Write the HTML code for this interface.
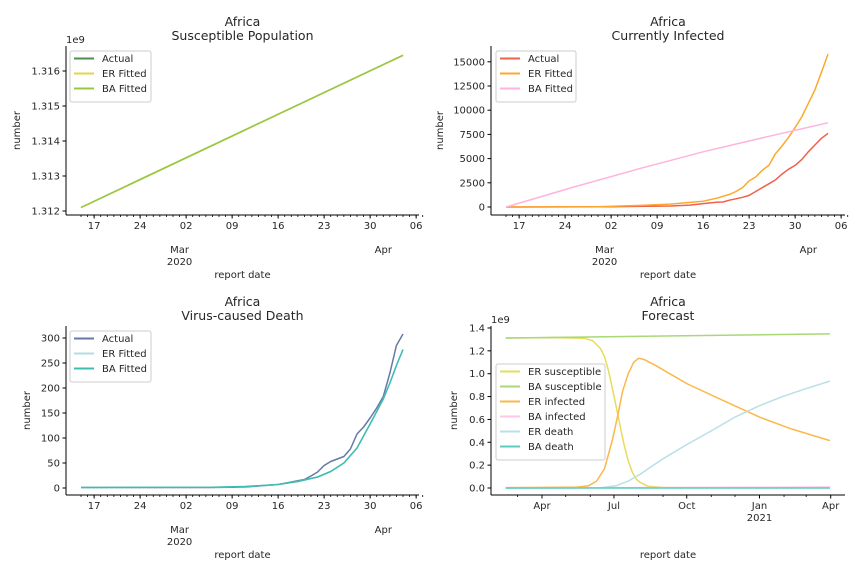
<!DOCTYPE html>
<html><head><meta charset="utf-8"><style>
html,body{margin:0;padding:0;background:#fff;}
svg{display:block;font-family:"DejaVu Sans","Liberation Sans",sans-serif;}
</style></head><body>
<svg id="fig" width="864" height="576" xmlns="http://www.w3.org/2000/svg"></svg>
<script>
// ---- data (day index from 2020-02-15) ----
const suscDays=[0,25,49];
const suscActual=[1.31210,1.31432,1.31645];
const suscER=[1.31210,1.31432,1.31645];
const suscBA=[1.31210,1.31432,1.31645];

const infActualDays=[0,16,25,28,30,32,33,34,35,36,37,38,39,40,41,42,43,44,45,46,47,48,49];
const infActual=[0,30,100,200,350,500,520,700,850,1000,1200,1600,2000,2400,2800,3400,3900,4300,4900,5700,6400,7100,7600];
const infERDays=[0,14,20,25,30,32,34,35,36,37,38,39,40,41,42,43,44,45,46,47,48,49];
const infER=[0,20,150,300,600,900,1300,1600,2000,2700,3100,3800,4300,5500,6300,7200,8200,9300,10700,12100,13900,15800];
const infBADays=[0,10,20,30,40,49];
const infBA=[0,2000,3900,5700,7300,8700];

const deathActualDays=[0,20,25,28,30,32,34,35,36,37,38,39,40,41,42,43,44,45,46,47,48,49];
const deathActual=[1,1,2,5,7,12,17,24,32,45,53,58,63,78,108,122,140,160,183,230,285,308];
const deathFitDays=[0,20,25,30,33,36,38,40,42,44,46,47,48,49];
const deathER=[1,1.5,3,7,13,22,33,50,80,128,178,210,245,277];
const deathBA=[1,1.5,3,7,13,22,33,50,80,128,178,210,245,277];

const fcERSuscDays=[0,60,100,110,120,125,130,135,138,142,146,150,155,160,165,170,180,200,410];
const fcERSusc=[1.312,1.316,1.31,1.29,1.22,1.15,1.03,0.87,0.77,0.64,0.5,0.37,0.24,0.14,0.08,0.05,0.015,0.004,0.002];
const fcBASuscDays=[0,410];
const fcBASusc=[1.312,1.348];
const fcERInfDays=[0,90,105,115,125,135,142,148,155,162,168,175,190,230,280,321,360,410];
const fcERInf=[0.003,0.008,0.02,0.06,0.17,0.42,0.64,0.85,1.0,1.1,1.135,1.125,1.07,0.91,0.75,0.62,0.52,0.415];
const fcBAInfDays=[0,410];
const fcBAInf=[0.0,0.009];
const fcERDeathDays=[0,120,140,155,170,185,200,229,260,290,321,350,380,410];
const fcERDeath=[0,0.003,0.02,0.06,0.12,0.19,0.26,0.38,0.5,0.62,0.72,0.8,0.87,0.935];
const fcBADeathDays=[0,410];
const fcBADeath=[0,0.0003];

const shortTickDays=[2,9,16,23,30,37,44,51];
const shortTickLabels=["17","24","02","09","16","23","30","06"];
const fcTickDays=[46,137,229,321,411];
const fcTickLabels=["Apr","Jul","Oct","Jan","Apr"];
const fcMinorDays=[15,76,107,168,199,260,290,352,380];

const NS="http://www.w3.org/2000/svg";
const svg=document.getElementById('fig');
function el(tag,attrs,parent){const e=document.createElementNS(NS,tag);for(const k in attrs)e.setAttribute(k,attrs[k]);(parent||svg).appendChild(e);return e;}
function txt(x,y,s,size,anchor,parent,extra){const t=el('text',Object.assign({x:x,y:y,'font-size':size,'text-anchor':anchor||'middle',fill:'#262626'},extra||{}),parent);t.textContent=s;return t;}

function panel(cfg){
  const g=el('g',{});
  
  
  const xs=d=>cfg.x0+d*cfg.pxPerDay;
  const ys=v=>cfg.yZero-(v-cfg.yBase)*cfg.pxPerUnit;
  // titles
  const t1=txt((cfg.L+cfg.R)/2,cfg.T-20,'Africa',12.5,'middle',g);
  
  const t2=txt((cfg.L+cfg.R)/2,cfg.T-6,cfg.title,12.5,'middle',g);
  
  // spines
  el('line',{x1:cfg.L,y1:cfg.T,x2:cfg.L,y2:cfg.B,stroke:'#000','stroke-width':1},g);
  el('line',{x1:cfg.L,y1:cfg.B,x2:cfg.R,y2:cfg.B,stroke:'#000','stroke-width':1},g);
  // y ticks
  cfg.yTicks.forEach((v,i)=>{const y=ys(v);
    el('line',{x1:cfg.L-3.5,y1:y,x2:cfg.L,y2:y,stroke:'#000'},g);
    const t=txt(cfg.L-6,y+3.5,cfg.yLabels[i],10,'end',g);
    });
  if(cfg.offset){const t=txt(cfg.L,cfg.T-3,cfg.offset,10,'start',g);}
  const yl=txt(0,0,'number',10,'middle',g,{transform:`translate(${cfg.L-cfg.ylOff},${(cfg.T+cfg.B)/2}) rotate(-90)`});
  
  // x ticks
  cfg.minor.forEach(d=>{const x=xs(d);el('line',{x1:x,y1:cfg.B,x2:x,y2:cfg.B+2,stroke:'#000','stroke-width':0.8},g);});
  cfg.xTicks.forEach((d,i)=>{const x=xs(d);
    el('line',{x1:x,y1:cfg.B,x2:x,y2:cfg.B+3.5,stroke:'#000'},g);
    const t=txt(x,cfg.B+14,cfg.xLabels[i],10,'middle',g);
    });
  cfg.extraLabels.forEach(o=>{const t=txt(xs(o.d),cfg.B+o.dy,o.s,10,'middle',g);});
  const xl=txt((cfg.L+cfg.R)/2,cfg.B+63,'report date',10,'middle',g);
  
  // series
  cfg.series.forEach(s=>{
    const pts=s.days.map((d,i)=>xs(d).toFixed(1)+','+ys(s.vals[i]).toFixed(1)).join(' ');
    const p=el('polyline',{points:pts,fill:'none',stroke:s.color,'stroke-width':s.w||1.5,'stroke-linejoin':'round'},g);
    
    
  });
  // legend
  const lg=el('g',{},g);
  
  
  const lh=cfg.series.length*15+6;
  el('rect',{x:cfg.legX,y:cfg.legY,width:cfg.legW,height:lh,rx:2,fill:'#fff','fill-opacity':0.8,stroke:'#ccc'},lg);
  cfg.series.forEach((s,i)=>{const y=cfg.legY+11+i*15;
    el('line',{x1:cfg.legX+4,y1:y-3.5,x2:cfg.legX+24,y2:y-3.5,stroke:s.color,'stroke-width':2},lg);
    const t=txt(cfg.legX+32,y,s.label,10,'start',lg);
    });
}
const dayMinor=[];for(let d=0;d<=52;d++)dayMinor.push(d);
const DP=46/7;
const shortExtra=[{d:15,dy:38,s:'Mar'},{d:15,dy:50,s:'2020'},{d:46,dy:38,s:'Apr'}];

panel({name:'susceptible-population-chart',title:'Susceptible Population',L:66,R:419,T:46,B:215,x0:81,pxPerDay:DP,
  yZero:211,yBase:1.312,pxPerUnit:35000,yTicks:[1.312,1.313,1.314,1.315,1.316],yLabels:['1.312','1.313','1.314','1.315','1.316'],
  offset:'1e9',ylOff:46,xTicks:shortTickDays,xLabels:shortTickLabels,minor:dayMinor,extraLabels:shortExtra,
  legX:70,legY:51,legW:81,
  series:[{id:'actual-line',label:'Actual',days:suscDays,vals:suscActual,color:'#4e8f4e'},
          {id:'er-fitted-line',label:'ER Fitted',days:suscDays,vals:suscER,color:'#e3d64a'},
          {id:'ba-fitted-line',label:'BA Fitted',days:suscDays,vals:suscBA,color:'#98c840'}]});

panel({name:'currently-infected-chart',title:'Currently Infected',L:491,R:845,T:46,B:215,x0:506,pxPerDay:DP,
  yZero:207,yBase:0,pxPerUnit:24.2/2500,yTicks:[0,2500,5000,7500,10000,12500,15000],yLabels:['0','2500','5000','7500','10000','12500','15000'],
  offset:null,ylOff:48,xTicks:shortTickDays,xLabels:shortTickLabels,minor:dayMinor,extraLabels:shortExtra,
  legX:496,legY:51,legW:80,
  series:[{id:'actual-line',label:'Actual',days:infActualDays,vals:infActual,color:'#f0604a'},
          {id:'er-fitted-line',label:'ER Fitted',days:infERDays,vals:infER,color:'#fba92e'},
          {id:'ba-fitted-line',label:'BA Fitted',days:infBADays,vals:infBA,color:'#ffb3de'}]});

panel({name:'virus-caused-death-chart',title:'Virus-caused Death',L:66,R:419,T:326,B:495,x0:81,pxPerDay:DP,
  yZero:488,yBase:0,pxPerUnit:0.5,yTicks:[0,50,100,150,200,250,300],yLabels:['0','50','100','150','200','250','300'],
  offset:null,ylOff:36,xTicks:shortTickDays,xLabels:shortTickLabels,minor:dayMinor,extraLabels:shortExtra,
  legX:70,legY:331,legW:81,
  series:[{id:'actual-line',label:'Actual',days:deathActualDays,vals:deathActual,color:'#6578a6'},
          {id:'er-fitted-line',label:'ER Fitted',days:deathFitDays,vals:deathER,color:'#b2dde3'},
          {id:'ba-fitted-line',label:'BA Fitted',days:deathFitDays,vals:deathBA,color:'#3dbcb0'}]});

panel({name:'forecast-chart',title:'Forecast',L:491,R:845,T:326,B:495,x0:505.6,pxPerDay:0.791,
  yZero:488,yBase:0,pxPerUnit:114.3,yTicks:[0,0.2,0.4,0.6,0.8,1.0,1.2,1.4],yLabels:['0.0','0.2','0.4','0.6','0.8','1.0','1.2','1.4'],
  offset:'1e9',ylOff:34,xTicks:fcTickDays,xLabels:fcTickLabels,minor:fcMinorDays,
  extraLabels:[{d:321,dy:26,s:'2021'}],
  legX:496,legY:364,legW:109,
  series:[{id:'er-susceptible-line',label:'ER susceptible',days:fcERSuscDays,vals:fcERSusc,color:'#e6dc5c'},
          {id:'ba-susceptible-line',label:'BA susceptible',days:fcBASuscDays,vals:fcBASusc,color:'#a8d878'},
          {id:'er-infected-line',label:'ER infected',days:fcERInfDays,vals:fcERInf,color:'#fbb84a'},
          {id:'ba-infected-line',label:'BA infected',days:fcBAInfDays,vals:fcBAInf,color:'#ffc6e8'},
          {id:'er-death-line',label:'ER death',days:fcERDeathDays,vals:fcERDeath,color:'#b8e0e6'},
          {id:'ba-death-line',label:'BA death',days:fcBADeathDays,vals:fcBADeath,color:'#5ccbc0'}]});
</script>
</body></html>
